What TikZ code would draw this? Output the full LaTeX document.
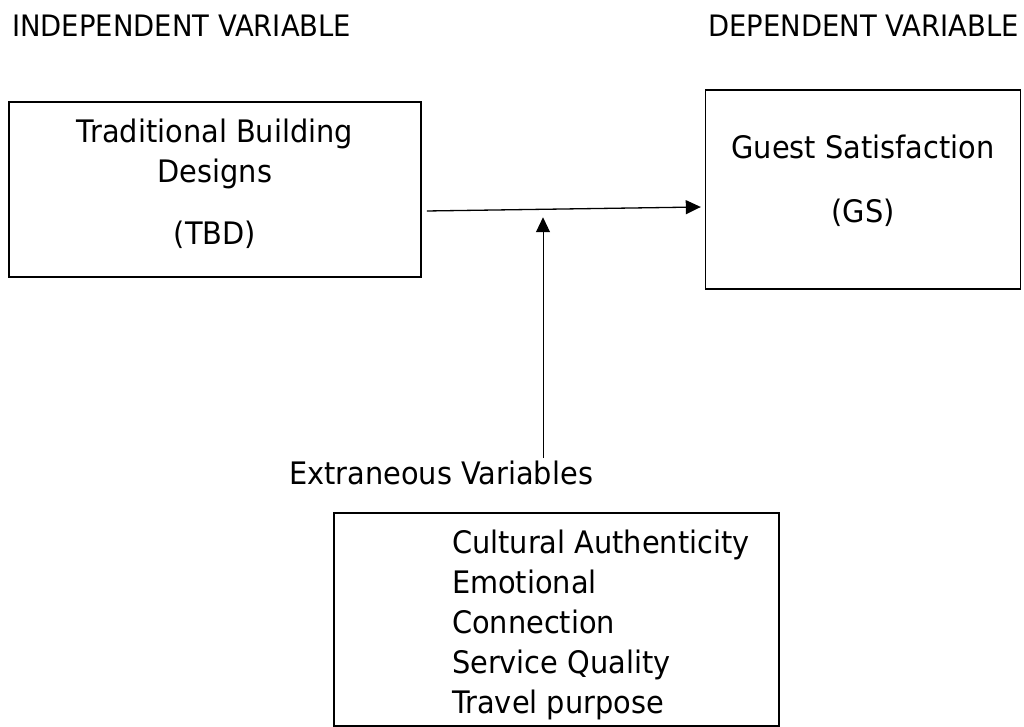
\documentclass[tikz,border=0pt]{standalone}
\usepackage{fontspec}
\setmainfont{DejaVu Sans}[FakeStretch=0.93]
\usetikzlibrary{arrows.meta,positioning}

\begin{document}
\begin{tikzpicture}[x=1pt,y=1pt,
	    font=\fontsize{31}{40}\selectfont,
	    VARblock/.style= {
	        draw, line width=1.6pt,
	        align=center, inner sep=0pt},
	    VARtext/.style= {inner sep=0pt},
	    VARhead/.style= {inner sep=0pt, font=\fontsize{29.5}{40}\selectfont},
	    VARarrow/.style= {-{Triangle[length=15pt,width=14pt]}, line width=1.3pt}]

		\useasboundingbox (0,0) rectangle (1024,727);

		% Headings
		\node [VARhead,anchor=base west] (iv) at (12,690) {INDEPENDENT VARIABLE};
		\node [VARhead,anchor=base east] (dv) at (1019,690) {DEPENDENT VARIABLE};

		% Blocks
		\node [VARblock,minimum width=412pt,minimum height=175pt] (tbd) at (215,537.5)
		    {Traditional Building\\Designs\\[22pt](TBD)\rule[-16pt]{0pt}{0pt}};
		\node [VARblock,minimum width=315pt,minimum height=199pt] (gs) [right=283pt of tbd]
		    {Guest Satisfaction\\[24pt](GS)\rule[-21pt]{0pt}{0pt}};
		\node [VARblock,anchor=north] (ext) at (556.5,215)
		    {\begin{tabular}{@{\hspace{118pt}}p{305pt}@{\hspace{22pt}}}
		     \rule{0pt}{41pt}Cultural Authenticity\\
		     Emotional\\
		     Connection\\
		     Service Quality\\
		     Travel purpose
		     \end{tabular}};

		% Labels
		\node [VARtext,anchor=base] (ev) at (441,242) {Extraneous Variables};

		% Arrows
		\draw [VARarrow] ([shift={(5pt,-21.5pt)}]tbd.east) -- ([shift={(-4pt,-17.5pt)}]gs.west);
		\draw [VARarrow,line width=1pt] ([shift={(102pt,3pt)}]ev.north) -- ++(0,241);

	\end{tikzpicture}
\end{document}
